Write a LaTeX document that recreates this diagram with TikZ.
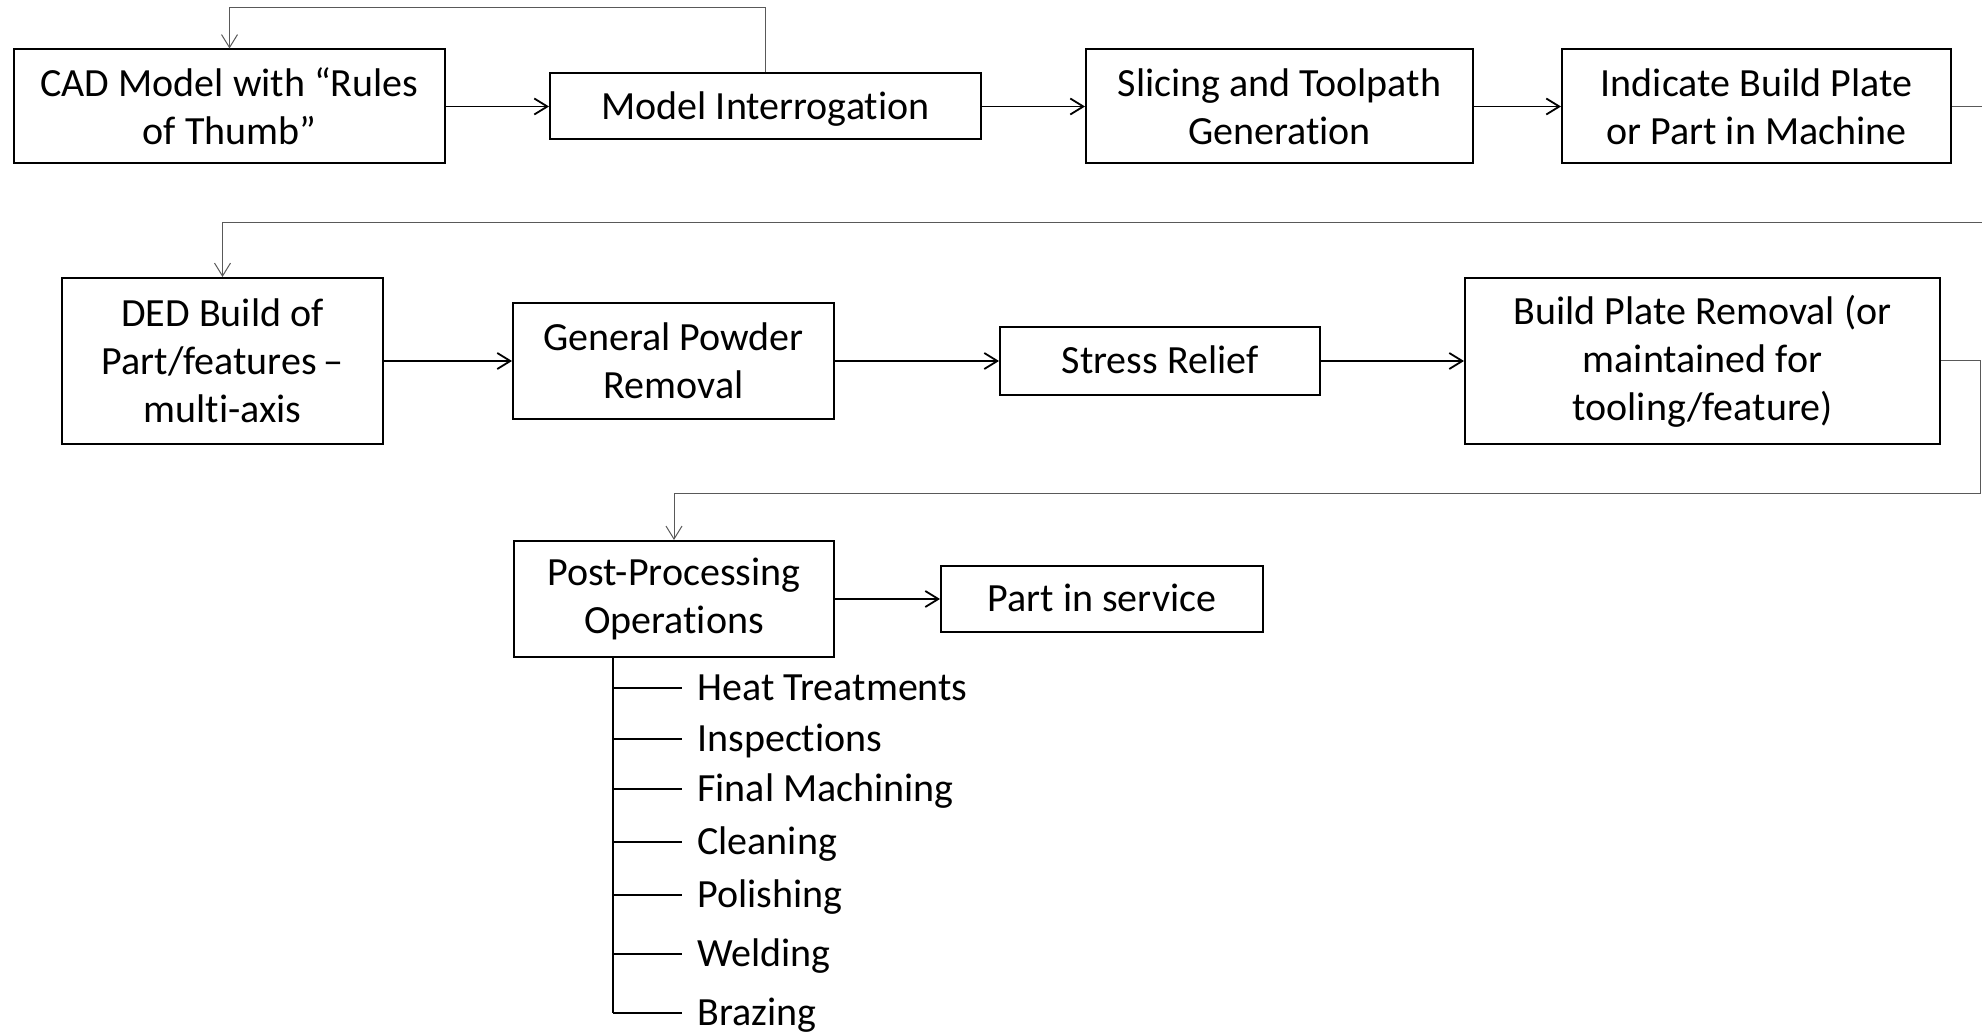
\documentclass[tikz,border=0pt]{standalone}
\usepackage{fontspec}
\setmainfont{Carlito}[Ligatures=NoCommon]
\usetikzlibrary{arrows.meta}

\begin{document}
\begin{tikzpicture}[x=0.5pt, y=-0.5pt,
  box/.style={draw, line width=1pt, align=center, inner sep=0pt,
    font=\fontsize{20pt}{24pt}\selectfont},
  single/.style={text height=12.9pt, text depth=0pt},
  item/.style={anchor=west, inner sep=0pt, text height=12.9pt, text depth=0pt,
    font=\fontsize{20pt}{24pt}\selectfont},
  arr/.style={line width=0.9pt, -{Straight Barb[length=6.5pt, width=8pt]}},
  fb/.style={black!65, line width=0.5pt, -{Straight Barb[length=6.5pt, width=8pt]}},
  branch/.style={line width=0.9pt}]
\useasboundingbox (0,0) rectangle (1982,1032);
\node[box, minimum width=215.5pt, minimum height=57pt] (cad) at (229.5,106.5) {CAD Model with “Rules\\of Thumb”};
\node[box, single, minimum width=215.5pt, minimum height=33pt] (interr) at (765.5,106.5) {Model Interrogation};
\node[box, minimum width=193.5pt, minimum height=57pt] (slice) at (1279.5,106.5) {Slicing and Toolpath\\Generation};
\node[box, minimum width=194.5pt, minimum height=57pt] (indic) at (1756.5,106.5) {Indicate Build Plate\\or Part in Machine};
\node[box, minimum width=160.5pt, minimum height=83pt] (ded) at (222.5,361) {DED Build of\\Part/features\,–\\multi-axis};
\node[box, minimum width=160.5pt, minimum height=58pt] (powder) at (673.5,361) {General Powder\\Removal};
\node[box, single, minimum width=160pt, minimum height=33.5pt] (stress) at (1160,361) {Stress Relief};
\node[box, minimum width=237.5pt, minimum height=83pt] (plate) at (1702.5,361) {Build Plate Removal (or\\maintained for\\tooling/feature)};
\node[box, minimum width=160pt, minimum height=58pt] (post) at (674,599) {Post-Processing\\Operations};
\node[box, single, minimum width=161pt, minimum height=33pt] (service) at (1102,599) {Part in service};
\coordinate (r1) at (1984,223);
\coordinate (r2) at (1980,493);
\coordinate (stem) at (613,0);
\draw[arr] (cad) -- (interr);
\draw[arr] (interr) -- (slice);
\draw[arr] (slice) -- (indic);
\draw[fb] (interr.north) -- ++(0,-65) -| (cad.north);
\draw[fb] (indic.east) -| (r1) -| (ded.north);
\draw[arr] (ded) -- (powder);
\draw[arr] (powder) -- (stress);
\draw[arr] (stress) -- (plate);
\draw[fb] (plate.east) -| (r2) -| (post.north);
\draw[arr] (post) -- (service);
\foreach \name/\txt/\y in {heat/Heat Treatments/688, insp/Inspections/739,
    mach/Final Machining/789, clean/Cleaning/842, polish/Polishing/895,
    weld/Welding/954, braze/Brazing/1013} {
  \node[item] (\name) at (697,\y) {\txt};
  \draw[branch] (stem |- \name.west) -- ([xshift=-7.5pt]\name.west);
}
\draw[branch] (stem |- post.south) -- (stem |- braze.west);
\end{tikzpicture}
\end{document}
